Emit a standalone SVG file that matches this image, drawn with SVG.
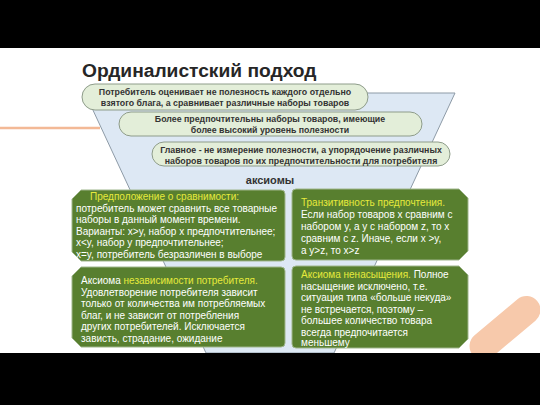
<svg xmlns="http://www.w3.org/2000/svg" width="540" height="405" viewBox="0 0 540 405">
<defs>
<style>
.pill{fill:#e3eed9;stroke:#8e9c8a;stroke-width:1}
.pt{font-family:"Liberation Sans",Arial,sans-serif;font-weight:bold;font-size:8.8px;fill:#333;text-anchor:middle}
.box{fill:#587f2f;stroke:#9fb68c;stroke-width:1}
.bt{font-family:"Liberation Sans",Arial,sans-serif;font-size:10px;fill:#ffffff}
.hl{fill:#e6ea3c}
</style>
</defs>
<rect x="0" y="0" width="540" height="405" fill="#ffffff"/>
<!-- decorations -->
<line x1="0" y1="128" x2="100" y2="128" stroke="#f3b996" stroke-width="2.5"/>
<rect x="463" y="314" width="84" height="28" rx="14" fill="#f7c9ab" transform="rotate(-40 505 328)"/>
<!-- funnel background -->
<polygon points="85,93 455,93 334,353 206,353" fill="#dde8f4" stroke="#8d9aa6" stroke-width="1"/>
<text x="82" y="77" font-family="'Liberation Sans',Arial,sans-serif" font-weight="bold" font-size="19.2" fill="#262626">Ординалистский подход</text>
<g id="connectors"></g>
<g id="pill1">
<rect class="pill" x="82" y="84" width="286" height="26" rx="13"/>
<text class="pt" x="225" y="95">Потребитель оценивает не полезность каждого отдельно</text>
<text class="pt" x="225" y="106">взятого блага, а сравнивает различные наборы товаров</text>
</g>
<g id="pill2">
<rect class="pill" x="119" y="112" width="303" height="24" rx="12"/>
<text class="pt" x="270" y="122">Более предпочтительны наборы товаров, имеющие</text>
<text class="pt" x="270" y="133">более высокий уровень полезности</text>
</g>
<g id="pill3">
<rect class="pill" x="152" y="142" width="298" height="24" rx="12"/>
<text class="pt" x="301" y="153">Главное - не измерение полезности, а упорядочение различных</text>
<text class="pt" x="301" y="164">наборов товаров по их предпочтительности для потребителя</text>
</g>
<g id="axioms-label">
<text x="270" y="184" font-family="'Liberation Sans',Arial,sans-serif" font-weight="bold" font-size="11" fill="#333" text-anchor="middle">аксиомы</text>
</g>
<g id="box-comparability">
<path class="box" d="M81,190 H281 Q285,190 285,194 V257 Q285,261 281,261 H81 L72,252 V199 Z"/>
<text class="bt" y="200"><tspan x="90" class="hl">Предположение о сравнимости:</tspan></text>
<text class="bt" x="76" y="211.5">потребитель может сравнить все товарные</text>
<text class="bt" x="76" y="223">наборы в данный момент времени.</text>
<text class="bt" x="76" y="234.5">Варианты: x&gt;y, набор x предпочтительнее;</text>
<text class="bt" x="76" y="246">x&lt;y, набор y предпочтительнее;</text>
<text class="bt" x="76" y="257.5">x=y, потребитель безразличен в выборе</text>
</g>
<g id="box-transitivity">
<path class="box" d="M296,189 H459 L468,198 V251 L459,260 H296 Q292,260 292,256 V193 Q292,189 296,189 Z"/>
<text class="bt" x="301" y="206"><tspan class="hl">Транзитивность предпочтения.</tspan></text>
<text class="bt" x="301" y="218">Если набор товаров x сравним с</text>
<text class="bt" x="301" y="230">набором y, а y с набором z, то x</text>
<text class="bt" x="301" y="242">сравним с z. Иначе, если x &gt;y,</text>
<text class="bt" x="301" y="254">а y&gt;z, то x&gt;z</text>
</g>
<g id="box-independence">
<path class="box" d="M81,267 H281 Q285,267 285,271 V343 Q285,347 281,347 H81 L72,338 V276 Z"/>
<text class="bt" x="81" y="284">Аксиома <tspan class="hl">независимости потребителя.</tspan></text>
<text class="bt" x="81" y="295.5">Удовлетворение потребителя зависит</text>
<text class="bt" x="81" y="307">только от количества им потребляемых</text>
<text class="bt" x="81" y="318.5">благ, и не зависит от потребления</text>
<text class="bt" x="81" y="330">других потребителей. Исключается</text>
<text class="bt" x="81" y="341.5">зависть, страдание, ожидание</text>
</g>
<g id="box-nonsatiation">
<path class="box" d="M296,266 H459 L468,275 V339 L459,348 H296 Q292,348 292,344 V270 Q292,266 296,266 Z"/>
<text class="bt" x="301" y="278"><tspan class="hl">Аксиома ненасыщения.</tspan> Полное</text>
<text class="bt" x="301" y="289.5">насыщение исключено, т.е.</text>
<text class="bt" x="301" y="301">ситуация типа «больше некуда»</text>
<text class="bt" x="301" y="312.5">не встречается, поэтому –</text>
<text class="bt" x="301" y="324">большее количество товара</text>
<text class="bt" x="301" y="335.5">всегда предпочитается</text>
<text class="bt" x="301" y="346">меньшему</text>
</g>
<rect x="0" y="0" width="540" height="48" fill="#000"/>
<rect x="0" y="353" width="540" height="52" fill="#000"/>
</svg>
